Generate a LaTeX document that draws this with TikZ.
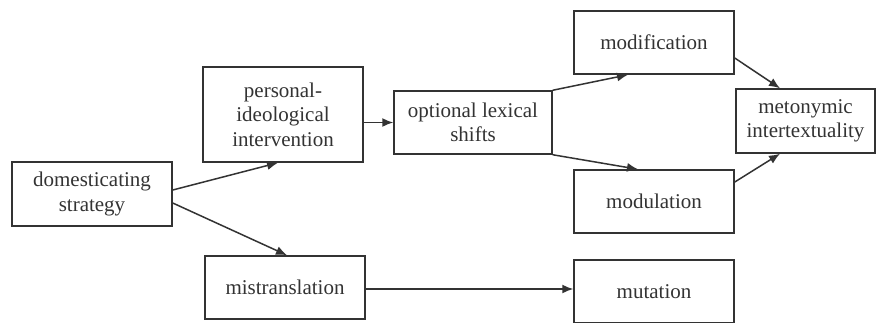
\documentclass[tikz,border=0pt]{standalone}
\usepackage{fontspec}
\setmainfont{Liberation Serif}
\usetikzlibrary{arrows.meta}
\definecolor{ink}{HTML}{333333}
\tikzset{
  box/.style={draw=ink, line width=1.5pt, text=ink, align=center, inner sep=0pt,
    font=\fontsize{21}{24.5}\selectfont, minimum width=160pt, minimum height=63pt},
  arr/.style={draw=ink, line width=1.5pt, -{Latex[length=11pt,width=9pt]}}
}
\begin{document}
\begin{tikzpicture}[x=1pt,y=-1pt]
\clip (0,0) rectangle (876,322);
\fill[white] (0,0) rectangle (876,322);
\node[box, minimum height=64pt] (dom) at (92,194) {domesticating\\strategy};
\node[box, minimum height=95pt] (pers) at (283,114.5) {personal-\\ideological\\intervention};
\node[box] (mis) at (285,287.5) {mistranslation};
\node[box, minimum width=158pt] (opt) at (473,122.5) {optional lexical\\shifts};
\node[box] (modf) at (654,42.5) {modification};
\node[box] (modu) at (654,201.5) {modulation};
\node[box] (mut) at (654,291.5) {mutation};
\node[box, minimum width=139pt, minimum height=64pt] (met) at (805.5,121) {metonymic\\intertextuality};
\draw[arr] ([yshift=4pt]dom.east) -- ([xshift=-5pt]pers.south);
\draw[arr] ([yshift=-9pt]dom.east) -- ([xshift=2pt]mis.north);
\draw[arr] (pers.east |- opt.west) -- (opt.west);
\draw[arr] (opt.north east) -- ([xshift=-26pt]modf.south);
\draw[arr] (opt.south east) -- ([xshift=-16pt]modu.north);
\draw[arr] ([yshift=-15.5pt]modf.east) -- ([xshift=-25.5pt]met.north);
\draw[arr] ([yshift=19.5pt]modu.east) -- ([xshift=-25.5pt]met.south);
\draw[arr] ([yshift=-1.5pt]mis.east) -- ([yshift=-1.5pt]mis.east -| mut.west);
\end{tikzpicture}
\end{document}
